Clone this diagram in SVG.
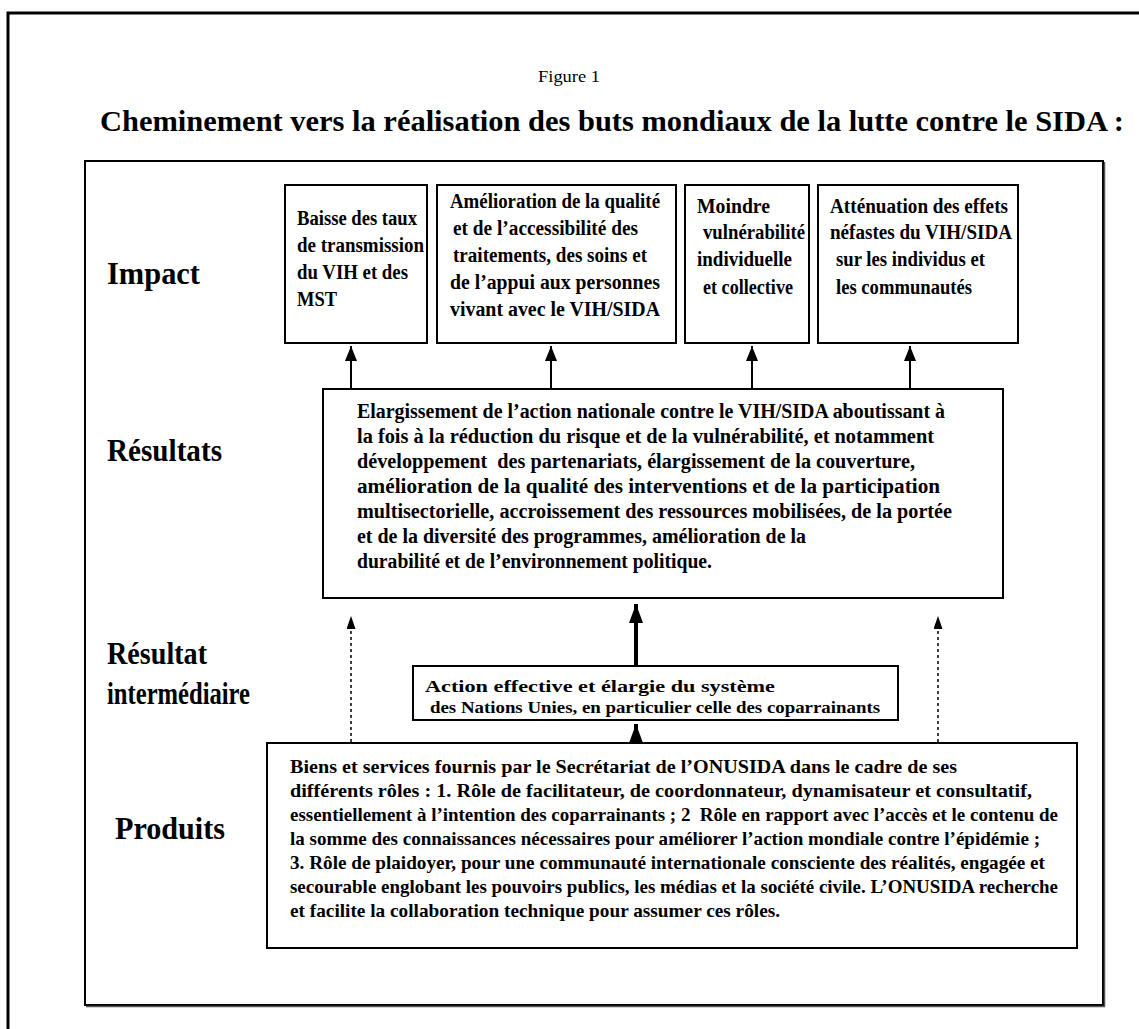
<svg xmlns="http://www.w3.org/2000/svg" width="1139" height="1029" viewBox="0 0 1139 1029">
<defs>
<style>
text{font-family:"Liberation Serif","Times New Roman",serif;fill:#000;white-space:pre}
.b{font-weight:bold}
.lab{font-size:31px;font-weight:bold}
.t18{font-size:20px;font-weight:bold}
.t17{font-size:19px;font-weight:bold}
.t16{font-size:17px;font-weight:bold}
.box{fill:#fff;stroke:#000;stroke-width:2}
.conn{stroke:#000;fill:none}
</style>
<marker id="ah" markerWidth="12" markerHeight="15" refX="6" refY="0" markerUnits="userSpaceOnUse" viewBox="0 0 12 15">
<path d="M0,15 L6,0 L12,15 Z" fill="#000"/>
</marker>
<marker id="ahd" markerWidth="9" markerHeight="13" refX="4.5" refY="0" markerUnits="userSpaceOnUse" viewBox="0 0 9 13">
<path d="M0,13 L4.5,0 L9,13 Z" fill="#000"/>
</marker>
<marker id="ahb" markerWidth="14" markerHeight="19" refX="7" refY="0" markerUnits="userSpaceOnUse" viewBox="0 0 14 19">
<path d="M0,19 L7,0 L14,19 Z" fill="#000"/>
</marker>
</defs>
<rect width="1139" height="1029" fill="#fff"/>
<rect x="8" y="13" width="1200" height="1100" fill="none" stroke="#000" stroke-width="3"/>
<text x="538" y="82" font-size="17" textLength="62" lengthAdjust="spacingAndGlyphs">Figure 1</text>
<text x="100" y="131" class="b" font-size="30" textLength="1024" lengthAdjust="spacingAndGlyphs">Cheminement vers la réalisation des buts mondiaux de la lutte contre le SIDA :</text>
<g id="frame">
<rect x="85" y="161" width="1018" height="844" fill="none" stroke="#000" stroke-width="2"/>
<path d="M86,1006.5 H1104.5 V162" fill="none" stroke="#555" stroke-width="1.5"/>
</g>
<g id="labels">
<text class="lab" x="107" y="284" textLength="93" lengthAdjust="spacingAndGlyphs">Impact</text>
<text class="lab" x="107" y="461" textLength="115" lengthAdjust="spacingAndGlyphs">Résultats</text>
<text class="lab" x="107" y="664" textLength="100" lengthAdjust="spacingAndGlyphs">Résultat</text>
<text class="lab" x="107" y="704" textLength="143" lengthAdjust="spacingAndGlyphs">intermédiaire</text>
<text class="lab" x="115" y="839" textLength="110" lengthAdjust="spacingAndGlyphs">Produits</text>
</g>
<g id="impact1">
<rect class="box" x="285" y="185" width="142" height="158"/>
<text class="t18" x="297" y="225" textLength="120" lengthAdjust="spacingAndGlyphs">Baisse des taux</text>
<text class="t18" x="297" y="252" textLength="127" lengthAdjust="spacingAndGlyphs">de transmission</text>
<text class="t18" x="297" y="279" textLength="111" lengthAdjust="spacingAndGlyphs">du VIH et des</text>
<text class="t18" x="297" y="306" textLength="40" lengthAdjust="spacingAndGlyphs">MST</text>
</g>
<g id="impact2">
<rect class="box" x="437" y="185" width="239" height="158"/>
<text class="t18" x="450" y="208" textLength="210" lengthAdjust="spacingAndGlyphs">Amélioration de la qualité</text>
<text class="t18" x="453" y="235" textLength="185" lengthAdjust="spacingAndGlyphs">et de l’accessibilité des</text>
<text class="t18" x="453" y="262" textLength="194" lengthAdjust="spacingAndGlyphs">traitements, des soins et</text>
<text class="t18" x="450" y="289" textLength="210" lengthAdjust="spacingAndGlyphs">de l’appui aux personnes</text>
<text class="t18" x="450" y="316" textLength="210" lengthAdjust="spacingAndGlyphs">vivant avec le VIH/SIDA</text>
</g>
<g id="impact3">
<rect class="box" x="685" y="185" width="124" height="158"/>
<text class="t18" x="697" y="213" textLength="73" lengthAdjust="spacingAndGlyphs">Moindre</text>
<text class="t18" x="703" y="239" textLength="102" lengthAdjust="spacingAndGlyphs">vulnérabilité</text>
<text class="t18" x="697" y="266" textLength="95" lengthAdjust="spacingAndGlyphs">individuelle</text>
<text class="t18" x="703" y="294" textLength="90" lengthAdjust="spacingAndGlyphs">et collective</text>
</g>
<g id="impact4">
<rect class="box" x="818" y="185" width="200" height="158"/>
<text class="t18" x="830" y="213" textLength="178" lengthAdjust="spacingAndGlyphs">Atténuation des effets</text>
<text class="t18" x="830" y="239" textLength="182" lengthAdjust="spacingAndGlyphs">néfastes du VIH/SIDA</text>
<text class="t18" x="836" y="266" textLength="149" lengthAdjust="spacingAndGlyphs">sur les individus et</text>
<text class="t18" x="836" y="294" textLength="136" lengthAdjust="spacingAndGlyphs">les communautés</text>
</g>
<g id="resultats">
<rect class="box" x="323" y="389" width="680" height="209"/>
<text class="t18" x="357" y="418" textLength="588" lengthAdjust="spacingAndGlyphs">Elargissement de l’action nationale contre le VIH/SIDA aboutissant à</text>
<text class="t18" x="357" y="443" textLength="577" lengthAdjust="spacingAndGlyphs">la fois à la réduction du risque et de la vulnérabilité, et notamment</text>
<text class="t18" x="357" y="468" textLength="558" lengthAdjust="spacingAndGlyphs">développement  des partenariats, élargissement de la couverture,</text>
<text class="t18" x="357" y="493" textLength="583" lengthAdjust="spacingAndGlyphs">amélioration de la qualité des interventions et de la participation</text>
<text class="t18" x="357" y="518" textLength="595" lengthAdjust="spacingAndGlyphs">multisectorielle, accroissement des ressources mobilisées, de la portée</text>
<text class="t18" x="357" y="543" textLength="449" lengthAdjust="spacingAndGlyphs">et de la diversité des programmes, amélioration de la</text>
<text class="t18" x="357" y="568" textLength="355" lengthAdjust="spacingAndGlyphs">durabilité et de l’environnement politique.</text>
</g>
<g id="intermediaire">
<rect class="box" x="413" y="666" width="485" height="54"/>
<text class="t16" x="425" y="692" textLength="350" lengthAdjust="spacingAndGlyphs">Action effective et élargie du système</text>
<text class="t16" x="430" y="713" textLength="450" lengthAdjust="spacingAndGlyphs">des Nations Unies, en particulier celle des coparrainants</text>
</g>
<g id="produits">
<rect class="box" x="267" y="743" width="810" height="205"/>
<text class="t17" x="290" y="773" textLength="667" lengthAdjust="spacingAndGlyphs">Biens et services fournis par le Secrétariat de l’ONUSIDA dans le cadre de ses</text>
<text class="t17" x="290" y="797" textLength="742" lengthAdjust="spacingAndGlyphs">différents rôles : 1. Rôle de facilitateur, de coordonnateur, dynamisateur et consultatif,</text>
<text class="t17" x="290" y="821" textLength="768" lengthAdjust="spacingAndGlyphs">essentiellement à l’intention des coparrainants ; 2  Rôle en rapport avec l’accès et le contenu de</text>
<text class="t17" x="290" y="845" textLength="750" lengthAdjust="spacingAndGlyphs">la somme des connaissances nécessaires pour améliorer l’action mondiale contre l’épidémie ;</text>
<text class="t17" x="290" y="869" textLength="755" lengthAdjust="spacingAndGlyphs">3. Rôle de plaidoyer, pour une communauté internationale consciente des réalités, engagée et</text>
<text class="t17" x="290" y="893" textLength="768" lengthAdjust="spacingAndGlyphs">secourable englobant les pouvoirs publics, les médias et la société civile. L’ONUSIDA recherche</text>
<text class="t17" x="290" y="917" textLength="490" lengthAdjust="spacingAndGlyphs">et facilite la collaboration technique pour assumer ces rôles.</text>
</g>
<g id="connectors">
<line class="conn" stroke-width="2" x1="351" y1="388" x2="351" y2="346" marker-end="url(#ah)"/>
<line class="conn" stroke-width="2" x1="551" y1="388" x2="551" y2="346" marker-end="url(#ah)"/>
<line class="conn" stroke-width="2" x1="752" y1="388" x2="752" y2="346" marker-end="url(#ah)"/>
<line class="conn" stroke-width="2" x1="910" y1="388" x2="910" y2="346" marker-end="url(#ah)"/>
<line class="conn" stroke-width="4" x1="636" y1="665" x2="636" y2="604" marker-end="url(#ahb)"/>
<line class="conn" stroke-width="4" x1="636" y1="742" x2="636" y2="724" marker-end="url(#ahb)"/>
<line class="conn" stroke-width="1.5" stroke-dasharray="3,3" x1="351" y1="742" x2="351" y2="616" marker-end="url(#ahd)"/>
<line class="conn" stroke-width="1.5" stroke-dasharray="3,3" x1="938" y1="742" x2="938" y2="616" marker-end="url(#ahd)"/>
</g>
</svg>
